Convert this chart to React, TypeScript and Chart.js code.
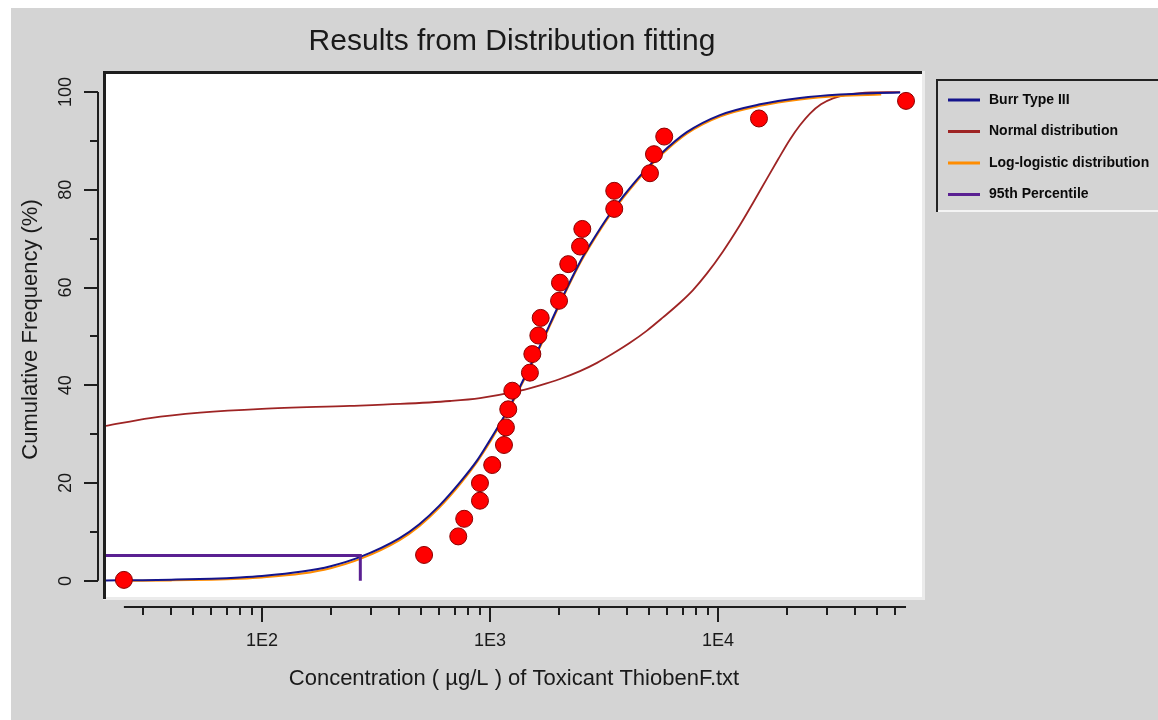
import React, { useEffect, useRef } from 'react';
import { Chart, registerables } from 'chart.js';

Chart.register(...registerables);

// ---------- data ----------
const obsConc = [24.8, 514, 726, 771, 904, 904, 1023, 1152, 1175, 1203, 1253, 1497, 1534, 1630, 1669, 2009, 2028, 2205, 2483, 2541, 3508, 3508, 5033, 5240, 5812, 15130, 66800];
const obsPct = [0.2, 5.3, 9.1, 12.7, 16.4, 20.0, 23.7, 27.8, 31.4, 35.1, 38.9, 42.6, 46.4, 50.2, 53.8, 57.3, 61.0, 64.8, 68.4, 72.0, 76.1, 79.8, 83.4, 87.3, 90.9, 94.6, 98.2];

const burrConc = [20.7, 30, 40, 60, 80, 100, 150, 200, 270, 400, 490, 600, 740, 880, 1000, 1110, 1220, 1310, 1420, 1650, 2030, 2480, 2750, 3350, 3830, 4410, 4900, 5570, 7300, 10200, 15300, 22900, 34300, 50000, 63000];
const burrPct = [0.1, 0.15, 0.25, 0.45, 0.7, 1.0, 1.9, 3.0, 4.9, 8.7, 11.6, 15.4, 20.2, 24.7, 28.8, 32.3, 35.7, 38.4, 41.7, 47.9, 57.0, 65.2, 68.8, 75.0, 78.6, 82.1, 84.5, 87.2, 91.8, 95.3, 97.5, 98.8, 99.5, 99.8, 99.9];

const logLogConc = [25, 40, 60, 80, 100, 150, 200, 270, 400, 490, 600, 740, 880, 1000, 1110, 1220, 1310, 1420, 1650, 2030, 2480, 2750, 3350, 3830, 4410, 4900, 5570, 7300, 10200, 15300, 22900, 34300, 52000];
const logLogPct = [0.0, 0.1, 0.25, 0.45, 0.7, 1.5, 2.6, 4.5, 8.3, 11.2, 15.0, 19.8, 24.4, 28.4, 32.0, 35.4, 38.1, 41.4, 47.6, 56.7, 64.9, 68.5, 74.7, 78.3, 81.8, 84.2, 86.9, 91.5, 95.0, 97.2, 98.5, 99.2, 99.5];

const normConc = [20.7, 32.3, 53.5, 100, 243, 403, 668, 904, 1354, 1657, 2028, 2482, 2947, 3463, 4111, 4882, 5739, 6813, 7771, 8950, 10518, 12489, 14239, 16400, 18335, 20695, 22884, 25320, 28301, 31950, 36060, 41960, 62840];
const normPct = [31.7, 33.3, 34.4, 35.2, 35.8, 36.2, 36.8, 37.4, 38.9, 40.0, 41.3, 42.9, 44.6, 46.5, 48.7, 51.2, 53.9, 56.9, 59.5, 62.9, 67.4, 72.8, 77.3, 82.3, 86.2, 90.3, 93.2, 95.6, 97.5, 98.7, 99.4, 99.8, 100];

const p95Conc = [20.7, 270, 270];
const p95Pct = [5.2, 5.2, 0];

const xMin = 20.7;
const xMax = 78500;
const yMin = -3.3;
const yMax = 103.7;

const yTickValues = [0, 10, 20, 30, 40, 50, 60, 70, 80, 90, 100];
const yLabelValues = [0, 20, 40, 60, 80, 100];
const xMajorTicks = [100, 1000, 10000];
const xTickLabels = ['1E2', '1E3', '1E4'];
const xMinorTicks = [30, 40, 50, 60, 70, 80, 90, 200, 300, 400, 500, 600, 700, 800, 900, 2000, 3000, 4000, 5000, 6000, 7000, 8000, 9000, 20000, 30000, 40000, 50000, 60000];

const chartTitle = 'Results from Distribution fitting';
const xTitle = 'Concentration ( µg/L ) of Toxicant ThiobenF.txt';
const yTitle = 'Cumulative Frequency (%)';
const legendLabels = ['Burr Type III', 'Normal distribution', 'Log-logistic distribution', '95th Percentile'];
const legendColors = ['#14148c', '#9e2424', '#ff8c00', '#5a2092'];

const FONT = "'Liberation Sans', Arial, sans-serif";

const toXY = (xs: number[], ys: number[]) => xs.map((x, i) => ({ x, y: ys[i] }));

const framePlugin = {
  id: 'frame',
  beforeDraw(chart: any) {
    const { ctx, chartArea: a } = chart;
    ctx.save();
    ctx.fillStyle = '#d4d4d4';
    ctx.fillRect(0, 0, chart.width, chart.height);
    ctx.fillStyle = '#ffffff';
    ctx.fillRect(a.left, a.top, a.right - a.left, a.bottom - a.top);
    ctx.fillStyle = '#ebebeb';
    ctx.fillRect(a.left - 3, a.bottom, a.right - a.left + 6, 3);
    ctx.fillRect(a.right, a.top - 3, 3, a.bottom - a.top + 6);
    ctx.fillStyle = '#1e1e1e';
    ctx.fillRect(a.left - 3, a.top - 3, a.right - a.left + 3, 3);
    ctx.fillRect(a.left - 3, a.top - 3, 3, a.bottom - a.top + 5);
    ctx.restore();
  },
  afterDraw(chart: any) {
    const { ctx, chartArea: a } = chart;
    const xs = chart.scales.x;
    const ys = chart.scales.y;
    ctx.save();
    ctx.strokeStyle = '#1e1e1e';
    ctx.fillStyle = '#1a1a1a';
    ctx.lineWidth = 2;

    // Y axis (detached)
    const yAxisX = a.left - 8;
    ctx.beginPath();
    ctx.moveTo(yAxisX, ys.getPixelForValue(100));
    ctx.lineTo(yAxisX, ys.getPixelForValue(0));
    ctx.stroke();
    yTickValues.forEach((v) => {
      const py = Math.round(ys.getPixelForValue(v));
      const len = yLabelValues.includes(v) ? 14 : 8;
      ctx.beginPath();
      ctx.moveTo(yAxisX, py);
      ctx.lineTo(yAxisX - len, py);
      ctx.stroke();
    });
    ctx.font = `18px ${FONT}`;
    ctx.textAlign = 'center';
    ctx.textBaseline = 'middle';
    yLabelValues.forEach((v) => {
      const py = ys.getPixelForValue(v);
      ctx.save();
      ctx.translate(a.left - 40, py);
      ctx.rotate(-Math.PI / 2);
      ctx.fillText(String(v), 0, 0);
      ctx.restore();
    });

    // X axis (detached)
    const xAxisY = a.bottom + 10;
    const xLo = Math.min(...obsConc);
    const xHi = Math.max(...obsConc);
    ctx.beginPath();
    ctx.moveTo(xs.getPixelForValue(xLo), xAxisY);
    ctx.lineTo(xs.getPixelForValue(xHi), xAxisY);
    ctx.stroke();
    xMinorTicks.forEach((v) => {
      const px = Math.round(xs.getPixelForValue(v));
      ctx.beginPath();
      ctx.moveTo(px, xAxisY);
      ctx.lineTo(px, xAxisY + 8);
      ctx.stroke();
    });
    xMajorTicks.forEach((v, i) => {
      const px = Math.round(xs.getPixelForValue(v));
      ctx.beginPath();
      ctx.moveTo(px, xAxisY);
      ctx.lineTo(px, xAxisY + 15);
      ctx.stroke();
      ctx.fillText(xTickLabels[i], px, xAxisY + 34);
    });

    // Titles
    const cx = (a.left + a.right) / 2;
    ctx.font = `22px ${FONT}`;
    ctx.fillText(xTitle, cx, xAxisY + 72);
    ctx.save();
    ctx.translate(20, (ys.getPixelForValue(0) + ys.getPixelForValue(100)) / 2 - 7);
    ctx.rotate(-Math.PI / 2);
    ctx.fillText(yTitle, 0, 0);
    ctx.restore();
    ctx.font = `30px ${FONT}`;
    ctx.textBaseline = 'alphabetic';
    ctx.fillText(chartTitle, cx - 2, 42);

    // Legend box
    const lx = a.right + 14;
    const ly = a.top + 5;
    const lb = ly + 133;
    ctx.fillStyle = '#f4f4f4';
    ctx.fillRect(lx, lb - 2, chart.width - lx, 2);
    ctx.fillStyle = '#222222';
    ctx.fillRect(lx, ly, chart.width - lx, 2);
    ctx.fillRect(lx, ly, 2, lb - ly);
    ctx.font = `bold 14px ${FONT}`;
    ctx.textAlign = 'left';
    ctx.textBaseline = 'middle';
    legendLabels.forEach((lab, i) => {
      const ry = ly + 21 + i * 31.5;
      ctx.strokeStyle = legendColors[i];
      ctx.lineWidth = 3;
      ctx.beginPath();
      ctx.moveTo(lx + 12, ry);
      ctx.lineTo(lx + 44, ry);
      ctx.stroke();
      ctx.fillStyle = '#0a0a0a';
      ctx.fillText(lab, lx + 53, ry);
    });
    ctx.restore();
  },
};

export default function App() {
  const ref = useRef<HTMLCanvasElement | null>(null);

  useEffect(() => {
    if (!ref.current) return;
    const lineBase = {
      showLine: true,
      pointRadius: 0,
      pointHoverRadius: 0,
      fill: false,
      cubicInterpolationMode: 'monotone' as const,
    };
    const chart = new Chart(ref.current, {
      type: 'scatter',
      data: {
        datasets: [
          {
            label: 'Observed',
            data: toXY(obsConc, obsPct),
            showLine: false,
            pointRadius: 8.5,
            pointBackgroundColor: '#ff0000',
            pointBorderColor: '#8b0000',
            pointBorderWidth: 1,
            order: 0,
          },
          {
            ...lineBase,
            label: legendLabels[3],
            data: toXY(p95Conc, p95Pct),
            borderColor: legendColors[3],
            borderWidth: 3,
            cubicInterpolationMode: 'default',
            tension: 0,
            order: 1,
          },
          {
            ...lineBase,
            label: legendLabels[0],
            data: toXY(burrConc, burrPct),
            borderColor: legendColors[0],
            borderWidth: 2,
            order: 2,
          },
          {
            ...lineBase,
            label: legendLabels[2],
            data: toXY(logLogConc, logLogPct),
            borderColor: legendColors[2],
            borderWidth: 2,
            order: 3,
          },
          {
            ...lineBase,
            label: legendLabels[1],
            data: toXY(normConc, normPct),
            borderColor: legendColors[1],
            borderWidth: 1.8,
            order: 4,
          },
        ] as any,
      },
      options: {
        animation: false,
        responsive: false,
        devicePixelRatio: 1,
        layout: { padding: { left: 95, top: 66, right: 236, bottom: 123 } },
        plugins: { legend: { display: false }, title: { display: false }, tooltip: { enabled: false } },
        scales: {
          x: { type: 'logarithmic', min: xMin, max: xMax, display: false },
          y: { type: 'linear', min: yMin, max: yMax, display: false },
        },
      },
      plugins: [framePlugin],
    });
    return () => chart.destroy();
  }, []);

  return (
    <div style={{ position: 'absolute', left: 11, top: 8, width: 1147, height: 712, background: '#d4d4d4' }}>
      <canvas ref={ref} width={1147} height={712} style={{ display: 'block', width: 1147, height: 712 }} />
    </div>
  );
}
